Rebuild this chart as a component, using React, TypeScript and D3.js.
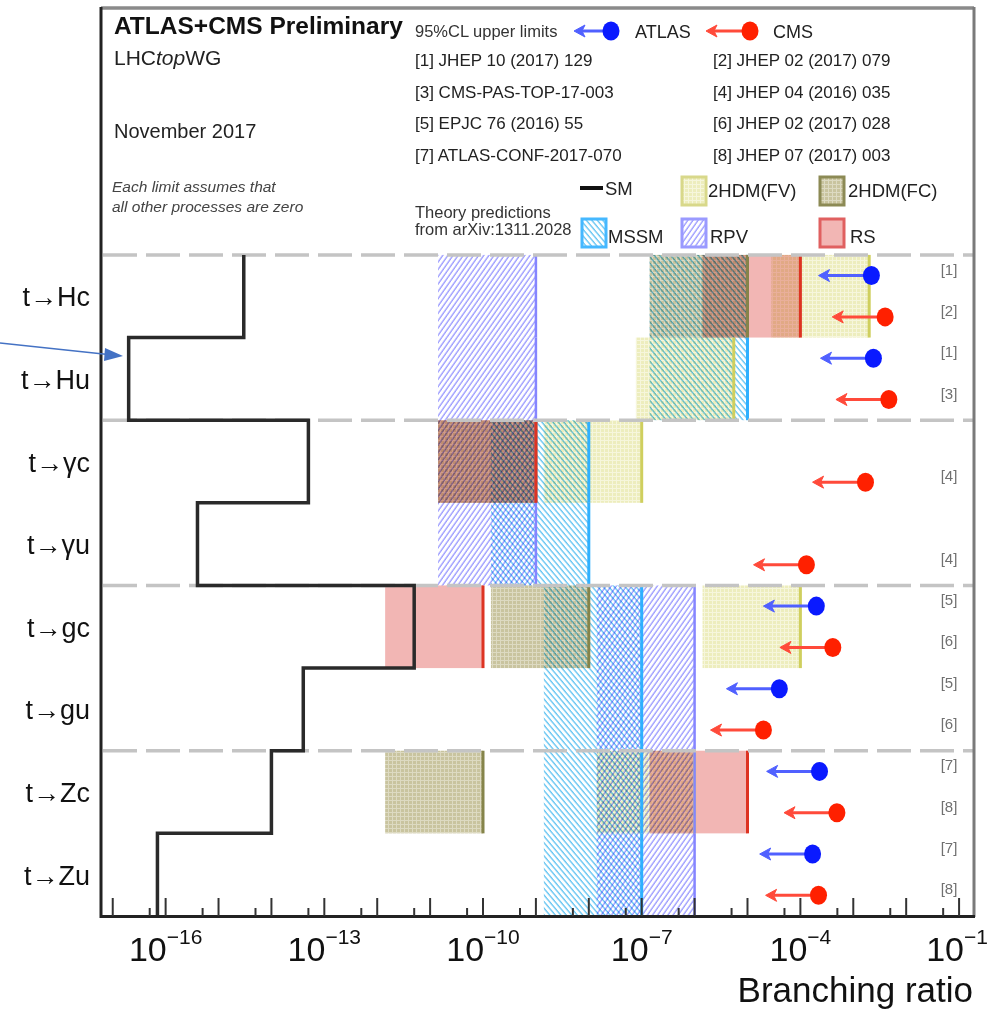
import React from 'react';
import * as d3 from 'd3';

const W = 987;
const H = 1013;

// ---------- data ----------
const processes = ['t→Hc', 't→Hu', 't→γc', 't→γu', 't→gc', 't→gu', 't→Zc', 't→Zu'];
const smValues = [3e-15, 2e-17, 5e-14, 4e-16, 5e-12, 4e-14, 1e-14, 7e-17];

// theory predictions (upper values) per process, null = none
const fvValues = [2e-3, 5.5e-6, 1e-7, null, 1e-4, null, 1e-6, null];
const fcValues = [1e-5, null, 1e-9, null, 1e-8, null, 1e-10, null];
const mssmValues = [1e-5, 1e-5, 1e-8, 1e-8, 1e-7, 1e-7, 1e-7, 1e-7];
const rpvValues = [1e-9, 1e-9, 1e-9, 1e-9, 1e-6, 1e-6, 1e-6, 1e-6];
const rsValues = [1e-4, null, 1e-9, null, 1e-10, null, 1e-5, null];

// experimental 95% CL upper limits
const atlasLimits = [2.2e-3, 2.4e-3, null, null, 2.0e-4, 4.0e-5, 2.3e-4, 1.7e-4];
const atlasRefs = ['[1]', '[1]', null, null, '[5]', '[5]', '[7]', '[7]'];
const cmsLimits = [4.0e-3, 4.7e-3, 1.7e-3, 1.3e-4, 4.1e-4, 2.0e-5, 4.9e-4, 2.2e-4];
const cmsRefs = ['[2]', '[3]', '[4]', '[4]', '[6]', '[6]', '[8]', '[8]'];

const referencesLeft = ['[1] JHEP 10 (2017) 129', '[3] CMS-PAS-TOP-17-003', '[5] EPJC 76 (2016) 55', '[7] ATLAS-CONF-2017-070'];
const referencesRight = ['[2] JHEP 02 (2017) 079', '[4] JHEP 04 (2016) 035', '[6] JHEP 02 (2017) 028', '[8] JHEP 07 (2017) 003'];

const majorTickExps = d3.range(-17, 0);
const minorTickExps = d3.range(-17, -1);
const labelExps = [-16, -13, -10, -7, -4, -1];

// ---------- style ----------
const FONT = "'Liberation Sans', Arial, Helvetica, sans-serif";
const BOX_DECADES = 1.85;
const models = [
  { key: 'fv', values: fvValues, fill: 'url(#fvPat)', line: '#cfcf5e', lw: 3 },
  { key: 'fc', values: fcValues, fill: 'url(#fcPat)', line: '#85844a', lw: 3 },
  { key: 'mssm', values: mssmValues, fill: 'url(#mssmPat)', line: '#2fb0ff', lw: 3 },
  { key: 'rpv', values: rpvValues, fill: 'url(#rpvPat)', line: '#8585ff', lw: 2.5 },
  { key: 'rs', values: rsValues, fill: '#f2b6b4', line: '#dd3322', lw: 3 },
];
const edgeOrder = ['fv', 'mssm', 'fc', 'rpv', 'rs'];

const ATLAS_DOT = '#0a1aff';
const ATLAS_LINE = '#5060ff';
const CMS_DOT = '#ff2000';
const CMS_LINE = '#ff4a3a';

function LimitMarker({ x0, x1, y, dot, line }: { x0: number; x1: number; y: number; dot: string; line: string }) {
  return (
    <g>
      <line x1={x1} x2={x0 + 8} y1={y} y2={y} stroke={line} strokeWidth={3} />
      <polygon points={`${x0},${y} ${x0 + 11},${y - 6} ${x0 + 8},${y} ${x0 + 11},${y + 6}`} fill={line} stroke={line} strokeWidth={1} />
      <ellipse cx={x1} cy={y} rx={8.5} ry={9.5} fill={dot} />
    </g>
  );
}

export default function App() {
  const x = d3.scaleLog().domain([6e-18, 0.2]).range([101, 975]);
  const y = d3.scaleLinear().domain([0, 11]).range([916, 7]);

  const rowTop = (i: number) => y(8 - i);
  const rowBot = (i: number) => y(7 - i);
  const rowMid = (i: number) => y(7.5 - i);
  const slotA = (i: number) => y(7.75 - i);
  const slotC = (i: number) => y(7.25 - i);

  // SM step path
  const smPts: [number, number][] = [];
  smValues.forEach((v, i) => {
    smPts.push([x(v), rowTop(i)]);
    smPts.push([x(v), rowBot(i)]);
  });
  const smPath = d3.line()(smPts) as string;

  const boxes = models.flatMap((m) =>
    m.values.map((v, i) => (v == null ? null : { m, i, x0: x(v / Math.pow(10, BOX_DECADES)), x1: x(v) })).filter(Boolean)
  ) as { m: typeof models[0]; i: number; x0: number; x1: number }[];

  const sortedEdges = [...boxes].sort((a, b) => edgeOrder.indexOf(a.m.key) - edgeOrder.indexOf(b.m.key));

  return (
    <svg width={W} height={H} style={{ position: 'absolute', left: 0, top: 0 }} fontFamily={FONT}>
      <defs>
        <pattern id="fvPat" width="4" height="4" patternUnits="userSpaceOnUse">
          <rect width="4" height="4" fill="#ededbd" />
          <path d="M0 0.5H4M0.5 0V4" stroke="#f6f6dc" strokeWidth="1" />
        </pattern>
        <pattern id="fcPat" width="4" height="4" patternUnits="userSpaceOnUse">
          <rect width="4" height="4" fill="#c9c49f" />
          <path d="M0 0.5H4M0.5 0V4" stroke="#dddac2" strokeWidth="1" />
        </pattern>
        <pattern id="mssmPat" width="4.2" height="8" patternUnits="userSpaceOnUse" patternTransform="rotate(-40)">
          <rect width="4.2" height="8" fill="white" />
          <line x1="1" y1="0" x2="1" y2="8" stroke="#5cc2f2" strokeWidth="1.3" />
        </pattern>
        <pattern id="rpvPat" width="4.2" height="8" patternUnits="userSpaceOnUse" patternTransform="rotate(35)">
          <rect width="4.2" height="8" fill="white" />
          <line x1="1" y1="0" x2="1" y2="8" stroke="#9797ff" strokeWidth="1.3" />
        </pattern>
      </defs>
      <rect width={W} height={H} fill="white" />

      {/* theory boxes */}
      <g>
        {boxes.map((b, k) => (
          <rect
            key={'b' + k}
            x={b.x0}
            y={rowTop(b.i)}
            width={b.x1 - b.x0}
            height={rowBot(b.i) - rowTop(b.i)}
            fill={b.m.fill}
            style={{ mixBlendMode: 'multiply' }}
          />
        ))}
        {sortedEdges.map((b, k) => (
          <line
            key={'e' + k}
            x1={b.x1}
            x2={b.x1}
            y1={rowTop(b.i)}
            y2={rowBot(b.i)}
            stroke={b.m.line}
            strokeWidth={b.m.lw}
          />
        ))}
      </g>

      {/* dashed separators */}
      {[2, 4, 6, 8].map((u) => (
        <line key={'d' + u} x1={103} x2={973} y1={y(u)} y2={y(u)} stroke="#c4c4c4" strokeWidth={3.5} strokeDasharray="34 9" />
      ))}

      {/* SM step line */}
      <path d={smPath} fill="none" stroke="#2a2a2a" strokeWidth={3.5} strokeLinejoin="miter" />

      {/* limits */}
      {atlasLimits.map((v, i) =>
        v == null ? null : (
          <LimitMarker key={'a' + i} x0={x(v / 10)} x1={x(v)} y={slotA(i)} dot={ATLAS_DOT} line={ATLAS_LINE} />
        )
      )}
      {cmsLimits.map((v, i) =>
        v == null ? null : <LimitMarker key={'c' + i} x0={x(v / 10)} x1={x(v)} y={slotC(i)} dot={CMS_DOT} line={CMS_LINE} />
      )}

      {/* reference tags on right */}
      {atlasRefs.map((r, i) =>
        r == null ? null : (
          <text key={'ra' + i} x={949} y={slotA(i) - 1} textAnchor="middle" fontSize={15} fill="#707070">
            {r}
          </text>
        )
      )}
      {cmsRefs.map((r, i) =>
        r == null ? null : (
          <text key={'rc' + i} x={949} y={slotC(i) - 1} textAnchor="middle" fontSize={15} fill="#707070">
            {r}
          </text>
        )
      )}

      {/* process labels */}
      {processes.map((p, i) => (
        <text key={'p' + i} x={90} y={rowMid(i) + 10} textAnchor="end" fontSize={27} fill="#111">
          {p}
        </text>
      ))}

      {/* frame */}
      <line x1={101} x2={974} y1={8} y2={8} stroke="#8a8a8a" strokeWidth={3.5} />
      <line x1={974} x2={974} y1={7} y2={917} stroke="#7a7a7a" strokeWidth={3} />
      <line x1={101} x2={101} y1={7} y2={918} stroke="#222" strokeWidth={3} />
      <line x1={100} x2={975} y1={916.5} y2={916.5} stroke="#222" strokeWidth={3} />

      {/* x ticks */}
      {majorTickExps.map((e) => (
        <line key={'M' + e} x1={x(Math.pow(10, e))} x2={x(Math.pow(10, e))} y1={916} y2={898} stroke="#333" strokeWidth={2} />
      ))}
      {minorTickExps.map((e) => (
        <line key={'m' + e} x1={x(5 * Math.pow(10, e))} x2={x(5 * Math.pow(10, e))} y1={916} y2={908} stroke="#333" strokeWidth={2} />
      ))}
      {labelExps.map((e) => (
        <text key={'l' + e} x={x(Math.pow(10, e)) - (e === -1 ? 2 : 0)} y={961} textAnchor="middle" fontSize={34} fill="#111">
          10
          <tspan dy={-17} fontSize={21}>
            {'−' + Math.abs(e)}
          </tspan>
        </text>
      ))}
      <text x={973} y={1002} textAnchor="end" fontSize={35} fill="#111">
        Branching ratio
      </text>

      {/* header */}
      <text x={114} y={34} fontSize={24.5} fontWeight="bold" fill="#111">
        ATLAS+CMS Preliminary
      </text>
      <text x={114} y={65} fontSize={21} fill="#222">
        LHC<tspan fontStyle="italic">top</tspan>WG
      </text>
      <text x={114} y={138} fontSize={20} fill="#222">
        November 2017
      </text>
      <text x={112} y={192} fontSize={15.5} fontStyle="italic" fill="#444">
        Each limit assumes that
      </text>
      <text x={112} y={212} fontSize={15.5} fontStyle="italic" fill="#444">
        all other processes are zero
      </text>

      {/* legend: experiments */}
      <text x={415} y={37} fontSize={16.5} fill="#333">
        95%CL upper limits
      </text>
      <LimitMarker x0={574} x1={611} y={31} dot={ATLAS_DOT} line={ATLAS_LINE} />
      <text x={635} y={38} fontSize={18} fill="#222">
        ATLAS
      </text>
      <LimitMarker x0={706} x1={750} y={31} dot={CMS_DOT} line={CMS_LINE} />
      <text x={773} y={38} fontSize={18} fill="#222">
        CMS
      </text>
      {referencesLeft.map((r, k) => (
        <text key={'rl' + k} x={415} y={66 + k * 31.5} fontSize={17} fill="#222">
          {r}
        </text>
      ))}
      {referencesRight.map((r, k) => (
        <text key={'rr' + k} x={713} y={66 + k * 31.5} fontSize={17} fill="#222">
          {r}
        </text>
      ))}

      {/* legend: theory */}
      <text x={415} y={218} fontSize={16.5} fill="#333">
        Theory predictions
      </text>
      <text x={415} y={235} fontSize={16.5} fill="#333">
        from arXiv:1311.2028
      </text>
      <line x1={580} x2={603} y1={188} y2={188} stroke="#111" strokeWidth={4} />
      <text x={605} y={195} fontSize={18.5} fill="#222">
        SM
      </text>
      <rect x={682} y={177} width={24} height={28} fill="url(#fvPat)" stroke="#d8d88a" strokeWidth={3} />
      <text x={708} y={197} fontSize={18.5} fill="#222">
        2HDM(FV)
      </text>
      <rect x={820} y={177} width={24} height={28} fill="url(#fcPat)" stroke="#8c8a55" strokeWidth={3} />
      <text x={848} y={197} fontSize={18.5} fill="#222">
        2HDM(FC)
      </text>
      <rect x={582} y={219} width={24} height={28} fill="url(#mssmPat)" stroke="#45b8ff" strokeWidth={3} />
      <text x={608} y={243} fontSize={18.5} fill="#222">
        MSSM
      </text>
      <rect x={682} y={219} width={24} height={28} fill="url(#rpvPat)" stroke="#9a9aff" strokeWidth={3} />
      <text x={710} y={243} fontSize={18.5} fill="#222">
        RPV
      </text>
      <rect x={820} y={219} width={24} height={28} fill="#f2b6b4" stroke="#e06060" strokeWidth={3} />
      <text x={850} y={243} fontSize={18.5} fill="#222">
        RS
      </text>

      {/* annotation arrow */}
      <line x1={0} y1={343} x2={108} y2={354.5} stroke="#4472c4" strokeWidth={1.5} />
      <polygon points="123,356 105,348 104,361" fill="#4472c4" />
    </svg>
  );
}
